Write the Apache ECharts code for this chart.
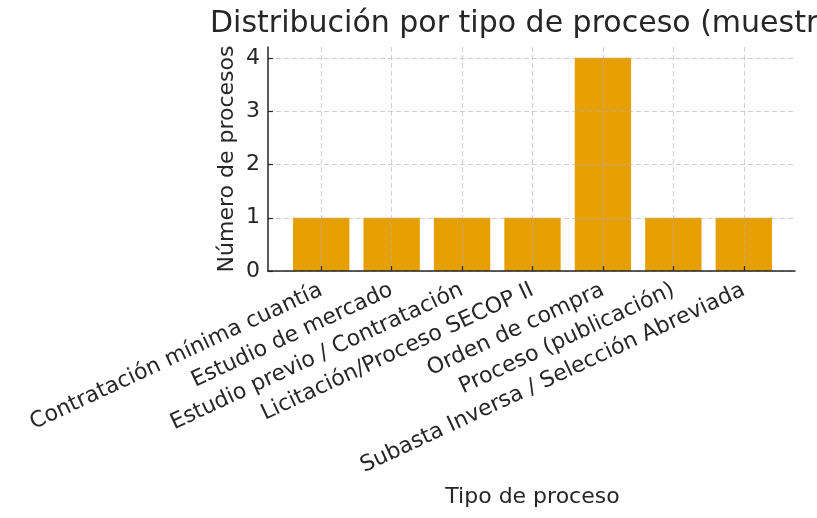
<!DOCTYPE html>
<html>
<head>
<meta charset="utf-8">
<script src="https://cdn.jsdelivr.net/npm/echarts@6/dist/echarts.min.js"></script>
<style>
  html, body { margin: 0; padding: 0; background: #fff; }
  #chart { width: 817px; height: 518px; }
</style>
</head>
<body>
<div id="chart"></div>
<script>
// datos
var categorias = [
	"Contratación mínima cuantía",
	"Estudio de mercado",
	"Estudio previo / Contratación",
	"Licitación/Proceso SECOP II",
	"Orden de compra",
	"Proceso (publicación)",
	"Subasta Inversa / Selección Abreviada"
];
var valores = [1, 1, 1, 1, 4, 1, 1];
var ticksY = [0, 1, 2, 3, 4];

var fuente = "DejaVu Sans";
var texto = "#262626";
var gris = "rgba(176,176,176,0.6)";

var myChart = echarts.init(document.getElementById("chart"));
var option = {
	backgroundColor: "#fff",
	animation: false,
	title: {
		text: "Distribución por tipo de proceso (muestra)",
		left: 205,
		top: 4,
		textStyle: {
			fontFamily: fuente,
			fontSize: 30,
			fontWeight: "normal",
			color: texto
		}
	},
	grid: [
		// rejilla horizontal y eje inferior
		{ left: 268, right: 22, top: 58, bottom: 247, outerBoundsMode: "none" },
		// barras
		{ left: 286, right: 38, top: 47, bottom: 247, outerBoundsMode: "none" }
	],
	xAxis: [{
		gridIndex: 0,
		type: "value",
		min: -0.74,
		max: 6.74,
		z: 4,
		axisLine: { show: true, onZero: false, lineStyle: { color: texto, width: 1.5 } },
		axisTick: { show: false },
		axisLabel: { show: false },
		splitLine: { show: false }
	}, {
		gridIndex: 1,
		type: "category",
		data: categorias,
		z: 3,
		name: "Tipo de proceso",
		nameLocation: "middle",
		nameGap: 215,
		nameMoveOverlap: false,
		nameTextStyle: { fontFamily: fuente, fontSize: 22, color: texto },
		axisLine: { show: false, onZero: false },
		axisTick: {
			show: true,
			alignWithLabel: true,
			inside: true,
			length: 5,
			lineStyle: { color: texto, width: 1.2 }
		},
		axisLabel: {
			rotate: 25,
			margin: 18,
			interval: 0,
			fontFamily: fuente,
			fontSize: 22,
			color: texto
		},
		splitLine: {
			show: true,
			alignWithLabel: true,
			lineStyle: { color: gris, type: [5, 3], width: 1 }
		}
	}],
	yAxis: [{
		gridIndex: 0,
		type: "value",
		min: 0,
		max: 4,
		interval: 1,
		data: ticksY,
		z: 3,
		axisLine: { show: false, onZero: false },
		axisTick: {
			show: true,
			inside: true,
			length: 5,
			lineStyle: { color: texto, width: 1.2 }
		},
		axisLabel: {
			margin: 8,
			fontFamily: fuente,
			fontSize: 22,
			color: texto
		},
		splitLine: {
			show: true,
			lineStyle: { color: gris, type: [5, 3], width: 1 }
		}
	}, {
		gridIndex: 1,
		type: "value",
		min: 0,
		max: 4.2,
		offset: 18,
		z: 4,
		name: "Número de procesos",
		nameLocation: "middle",
		nameGap: 30,
		nameMoveOverlap: false,
		nameTextStyle: { fontFamily: fuente, fontSize: 22, color: texto },
		axisLine: { show: true, onZero: false, lineStyle: { color: texto, width: 1.5 } },
		axisTick: { show: false },
		axisLabel: { show: false },
		splitLine: { show: false }
	}],
	series: [{
		type: "bar",
		xAxisIndex: 1,
		yAxisIndex: 1,
		barWidth: "80%",
		itemStyle: { color: "#E69F00" },
		data: valores
	}]
};
myChart.setOption(option);
</script>
</body>
</html>
